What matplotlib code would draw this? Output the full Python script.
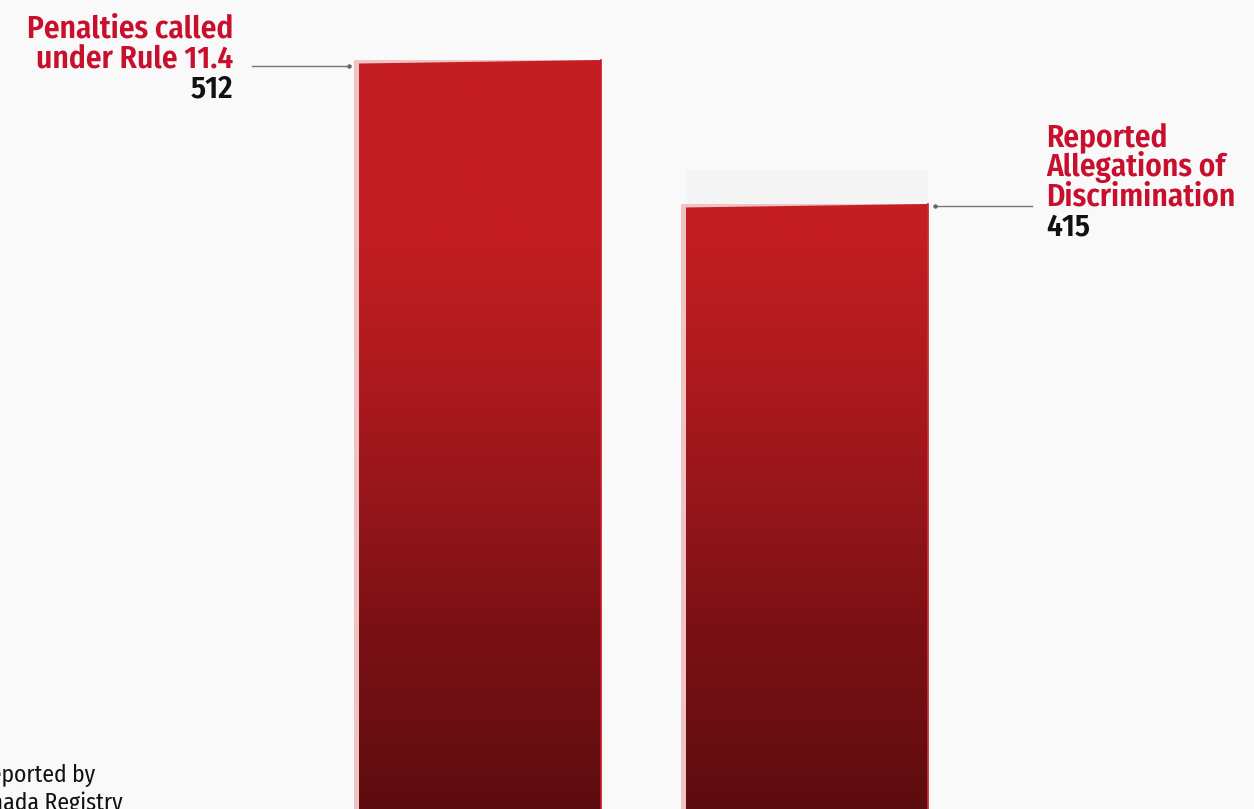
import numpy as np
import matplotlib.pyplot as plt
from matplotlib.colors import LinearSegmentedColormap
from matplotlib.patches import Polygon

plt.rcParams['font.family'] = ['Fira Sans Condensed', 'Roboto Condensed', 'DejaVu Sans']

# data
labels = ['Penalties called\nunder Rule 11.4', 'Reported\nAllegations of\nDiscrimination']
values = [512, 415]
source_lines = ['Reported by', 'Canada Registry']

RED = '#c8102e'
BG = '#f9f9f9'

W, H, DPI = 1254, 809, 100
fig = plt.figure(figsize=(W / DPI, H / DPI), dpi=DPI, facecolor=BG)

# axes run from just below the bottom edge up to the top, one unit ~ 1.484 px
px_per_unit = 760 / 512
base_px = 820
ymax = base_px / px_per_unit
ax = fig.add_axes([0, (H - base_px) / H, 1, base_px / H])
ax.set_facecolor(BG)
ax.set_ylim(0, ymax)
x_unit = 326.5
ax.set_xlim(-477.5 / x_unit, (W - 477.5) / x_unit)
ax.axis('off')

width = 247 / x_unit
inset = 5 / x_unit
slant = 3.5 / px_per_unit

cmap = LinearSegmentedColormap.from_list('bar', ['#5c0c0f', '#7c1115', '#a4181d', '#c41e22'])
grad = np.linspace(0, 1, 512).reshape(-1, 1)
grad_top = 395 / ymax  # gradient reaches full red around 395

for i, v in enumerate(values):
    x0 = i - width / 2
    x1 = i + width / 2
    # pale backing
    ax.bar(i, v, width=width, color='#efc3c4', zorder=1)
    if i == 1:
        ax.bar(i + inset / 2, 23, bottom=v, width=width - inset, color='#f5f5f5', zorder=0)
    poly = Polygon([(x0 + inset, 0), (x0 + inset, v - slant), (x1, v), (x1, 0)],
                   closed=True, facecolor='none', edgecolor='none')
    ax.add_patch(poly)
    im = ax.imshow(np.clip(grad / grad_top, 0, 1), cmap=cmap, aspect='auto', origin='lower',
                   extent=(x0 + inset, x1, 0, ymax), zorder=2, vmin=0, vmax=1)
    im.set_clip_path(poly)
    ax.plot([x1, x1], [0, v], color='#cc1a22', lw=1.2, zorder=3)

FS = 22.5
WT = 'semibold'

# left label
bx, by = 0 - width / 2, values[0]
for k, line in enumerate(labels[0].split('\n')):
    ax.annotate(line, xy=(bx, by), xytext=(-121, 22 - 29.5 * k), textcoords='offset pixels',
                ha='right', va='baseline', fontsize=FS, fontweight=WT, color=RED)
ax.annotate(str(values[0]), xy=(bx, by), xytext=(-121, 22 - 29.5 * 2), textcoords='offset pixels',
            ha='right', va='baseline', fontsize=FS, fontweight=WT, color='#111111')

# right label
bx, by = 1 + width / 2, values[1]
for k, line in enumerate(labels[1].split('\n')):
    ax.annotate(line, xy=(bx, by), xytext=(119, 58 - 29.7 * k), textcoords='offset pixels',
                ha='left', va='baseline', fontsize=FS, fontweight=WT, color=RED)
ax.annotate(str(values[1]), xy=(bx, by), xytext=(119, 58 - 29.7 * 3), textcoords='offset pixels',
            ha='left', va='baseline', fontsize=FS, fontweight=WT, color='#111111')


# connector lines drawn in pixel space
def connector(x_from, x_to, y):
    fig.lines.append(plt.Line2D([x_from / W, x_to / W], [(H - y) / H] * 2,
                                transform=fig.transFigure, color='#777777', lw=1))
    fig.lines.append(plt.Line2D([x_to / W], [(H - y) / H], transform=fig.transFigure,
                                marker='o', ms=2.2, color='#666666'))


connector(252, 349, 66)
connector(1032, 935, 206)

# source note, partly off the left edge
fig.text(95 / W, (H - 782) / H, source_lines[0], ha='right', va='baseline', fontsize=17, color='#111111')
fig.text(123 / W, (H - 810) / H, source_lines[1], ha='right', va='baseline', fontsize=17, color='#111111')

fig.savefig('out.png', dpi=DPI, facecolor=BG)
